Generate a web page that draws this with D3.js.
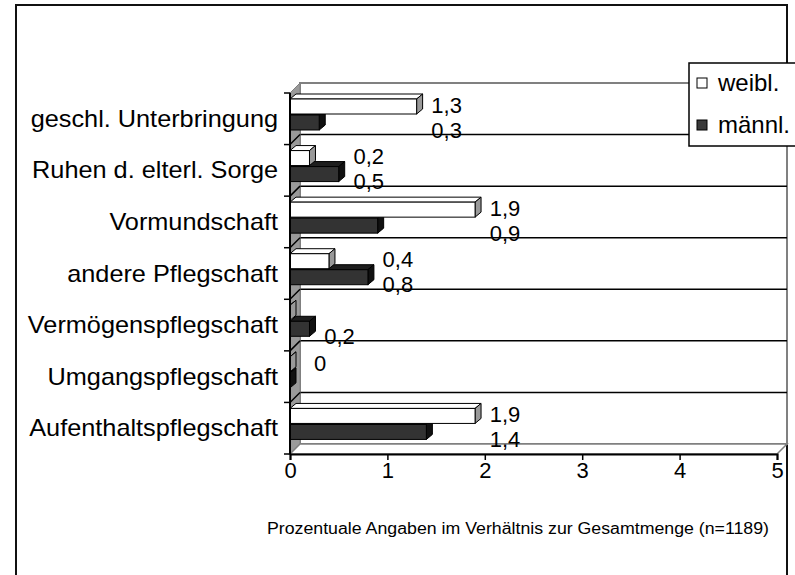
<!DOCTYPE html>
<html>
<head>
<meta charset="utf-8">
<script src="https://cdn.jsdelivr.net/npm/d3@7"></script>
<style>
  body { margin: 0; background: #fff; }
  text { font-family: "Liberation Sans", Arial, sans-serif; fill: #000; }
</style>
</head>
<body>
<div class="container"></div>
<script>
const categories = ["geschl. Unterbringung", "Ruhen d. elterl. Sorge", "Vormundschaft", "andere Pflegschaft", "Vermögenspflegschaft", "Umgangspflegschaft", "Aufenthaltspflegschaft"];
const weibl = [1.3, 0.2, 1.9, 0.4, 0, 0, 1.9];
const maennl = [0.3, 0.5, 0.9, 0.8, 0.2, 0, 1.4];
const weiblLabels = ["1,3", "0,2", "1,9", "0,4", null, "0", "1,9"];
const maennlLabels = ["0,3", "0,5", "0,9", "0,8", "0,2", null, "1,4"];
const xTicks = [0, 1, 2, 3, 4, 5];
const seriesNames = ["weibl.", "männl."];
const footnote = "Prozentuale Angaben im Verhältnis zur Gesamtmenge (n=1189)";

const width = 795, height = 575;
const dx = 10, dy = -10;      // wall depth
const bdx = 6, bdy = -5;      // bar depth

const svg = d3.select(".container").append("svg").attr("width", width).attr("height", height);

// outer frame
svg.append("rect").attr("x", 16).attr("y", 5).attr("width", 771).attr("height", 600)
  .attr("fill", "#fff").attr("stroke", "#111").attr("stroke-width", 2);

const xScale = d3.scaleLinear().domain([0, 5]).range([290, 777]);
const yScale = d3.scaleBand().domain(categories).range([93, 454]);
const x0 = xScale(0), x1 = xScale(5), yTop = yScale.range()[0], yBot = yScale.range()[1];

// back wall
svg.append("rect").attr("x", x0 + dx).attr("y", yTop + dy)
  .attr("width", x1 - x0).attr("height", yBot - yTop)
  .attr("fill", "#fff").attr("stroke", "#808080").attr("stroke-width", 2);

// grid lines on back wall
const bounds = categories.map(c => yScale(c)).slice(1);
svg.selectAll(".grid").data(bounds).enter().append("line")
  .attr("x1", x0 + dx).attr("x2", x1 + dx)
  .attr("y1", d => d + dy).attr("y2", d => d + dy)
  .attr("stroke", "#000").attr("stroke-width", 1.5);

// side wall
svg.append("path")
  .attr("d", `M${x0},${yTop}L${x0 + dx},${yTop + dy}L${x0 + dx},${yBot + dy}L${x0},${yBot}Z`)
  .attr("fill", "#9a9a9a").attr("stroke", "#808080");
svg.selectAll(".sideTick").data(bounds).enter().append("line")
  .attr("x1", x0).attr("x2", x0 + dx)
  .attr("y1", d => d).attr("y2", d => d + dy)
  .attr("stroke", "#000").attr("stroke-width", 1.5);

// floor
svg.append("path")
  .attr("d", `M${x0},${yBot}L${x0 + dx},${yBot + dy}L${x1 + dx},${yBot + dy}L${x1},${yBot}Z`)
  .attr("fill", "#fff").attr("stroke", "#808080").attr("stroke-width", 1.5);

// bars
function bar3d(g, v, y, h, front, top, side) {
  const xa = x0, xb = xScale(v);
  g.append("path")
    .attr("d", `M${xa},${y}L${xa + bdx},${y + bdy}L${xb + bdx},${y + bdy}L${xb},${y}Z`)
    .attr("fill", top).attr("stroke", "#000").attr("stroke-width", 1);
  g.append("path")
    .attr("d", `M${xb},${y}L${xb + bdx},${y + bdy}L${xb + bdx},${y + h + bdy}L${xb},${y + h}Z`)
    .attr("fill", side).attr("stroke", "#000").attr("stroke-width", 1);
  g.append("rect").attr("x", xa).attr("y", y).attr("width", xb - xa).attr("height", h)
    .attr("fill", front).attr("stroke", "#000").attr("stroke-width", 1);
}
const bars = svg.append("g");
categories.forEach((c, i) => {
  const b = yScale(c);
  bar3d(bars, maennl[i], b + 22, 15, "#333", "#1e1e1e", "#111");
  bar3d(bars, weibl[i], b + 6, 15, "#fff", "#fff", "#999");
});

// value labels
const labels = svg.append("g").style("font-size", "22px").attr("text-anchor", "middle");
categories.forEach((c, i) => {
  const lx = xScale(Math.max(weibl[i], maennl[i])) + 30;
  const b = yScale(c);
  if (weiblLabels[i] !== null)
    labels.append("text").attr("x", lx).attr("y", b + 12).attr("dy", "0.35em").text(weiblLabels[i]);
  if (maennlLabels[i] !== null)
    labels.append("text").attr("x", lx).attr("y", b + 37).attr("dy", "0.35em").text(maennlLabels[i]);
});

// axes
const yAxis = svg.append("g");
yAxis.append("line").attr("x1", x0).attr("x2", x0).attr("y1", yTop).attr("y2", yBot)
  .attr("stroke", "#000").attr("stroke-width", 2);
yAxis.selectAll(".ytick").data([yTop, ...bounds, yBot]).enter().append("line")
  .attr("x1", x0 - 6).attr("x2", x0).attr("y1", d => d).attr("y2", d => d)
  .attr("stroke", "#000").attr("stroke-width", 1.5);
yAxis.selectAll(".cat").data(categories).enter().append("text")
  .attr("transform", d => `translate(278,${yScale(d) + yScale.bandwidth() / 2}) scale(1.1,1)`)
  .attr("text-anchor", "end").attr("dy", "0.35em").style("font-size", "23px")
  .text(d => d);

const xAxis = d3.axisBottom(xScale).tickValues(xTicks).tickSize(6).tickPadding(2).tickFormat(d3.format("d"));
const gx = svg.append("g").attr("transform", `translate(0,${yBot})`).call(xAxis);
gx.select(".domain").attr("stroke", "#000").attr("stroke-width", 2);
gx.selectAll(".tick line").attr("stroke", "#000").attr("stroke-width", 1.5);
gx.selectAll(".tick text").style("font-size", "22px").style("font-family", "'Liberation Sans', Arial, sans-serif");

// footnote
svg.append("text").attr("x", 267).attr("y", 534)
  .attr("textLength", 502).attr("lengthAdjust", "spacingAndGlyphs")
  .style("font-size", "16px").text(footnote);

// legend
const legend = svg.append("g");
legend.append("rect").attr("x", 689).attr("y", 63).attr("width", 120).attr("height", 83)
  .attr("fill", "#fff").attr("stroke", "#000").attr("stroke-width", 1.5);
const legendColors = ["#fff", "#3a3a3a"];
seriesNames.forEach((s, i) => {
  const ly = 83 + i * 42;
  legend.append("rect").attr("x", 697).attr("y", ly - 5).attr("width", 10).attr("height", 10)
    .attr("fill", legendColors[i]).attr("stroke", "#000").attr("stroke-width", 1);
  legend.append("text").attr("x", 718).attr("y", ly).attr("dy", "0.35em")
    .style("font-size", "24px").text(s);
});
</script>
</body>
</html>
